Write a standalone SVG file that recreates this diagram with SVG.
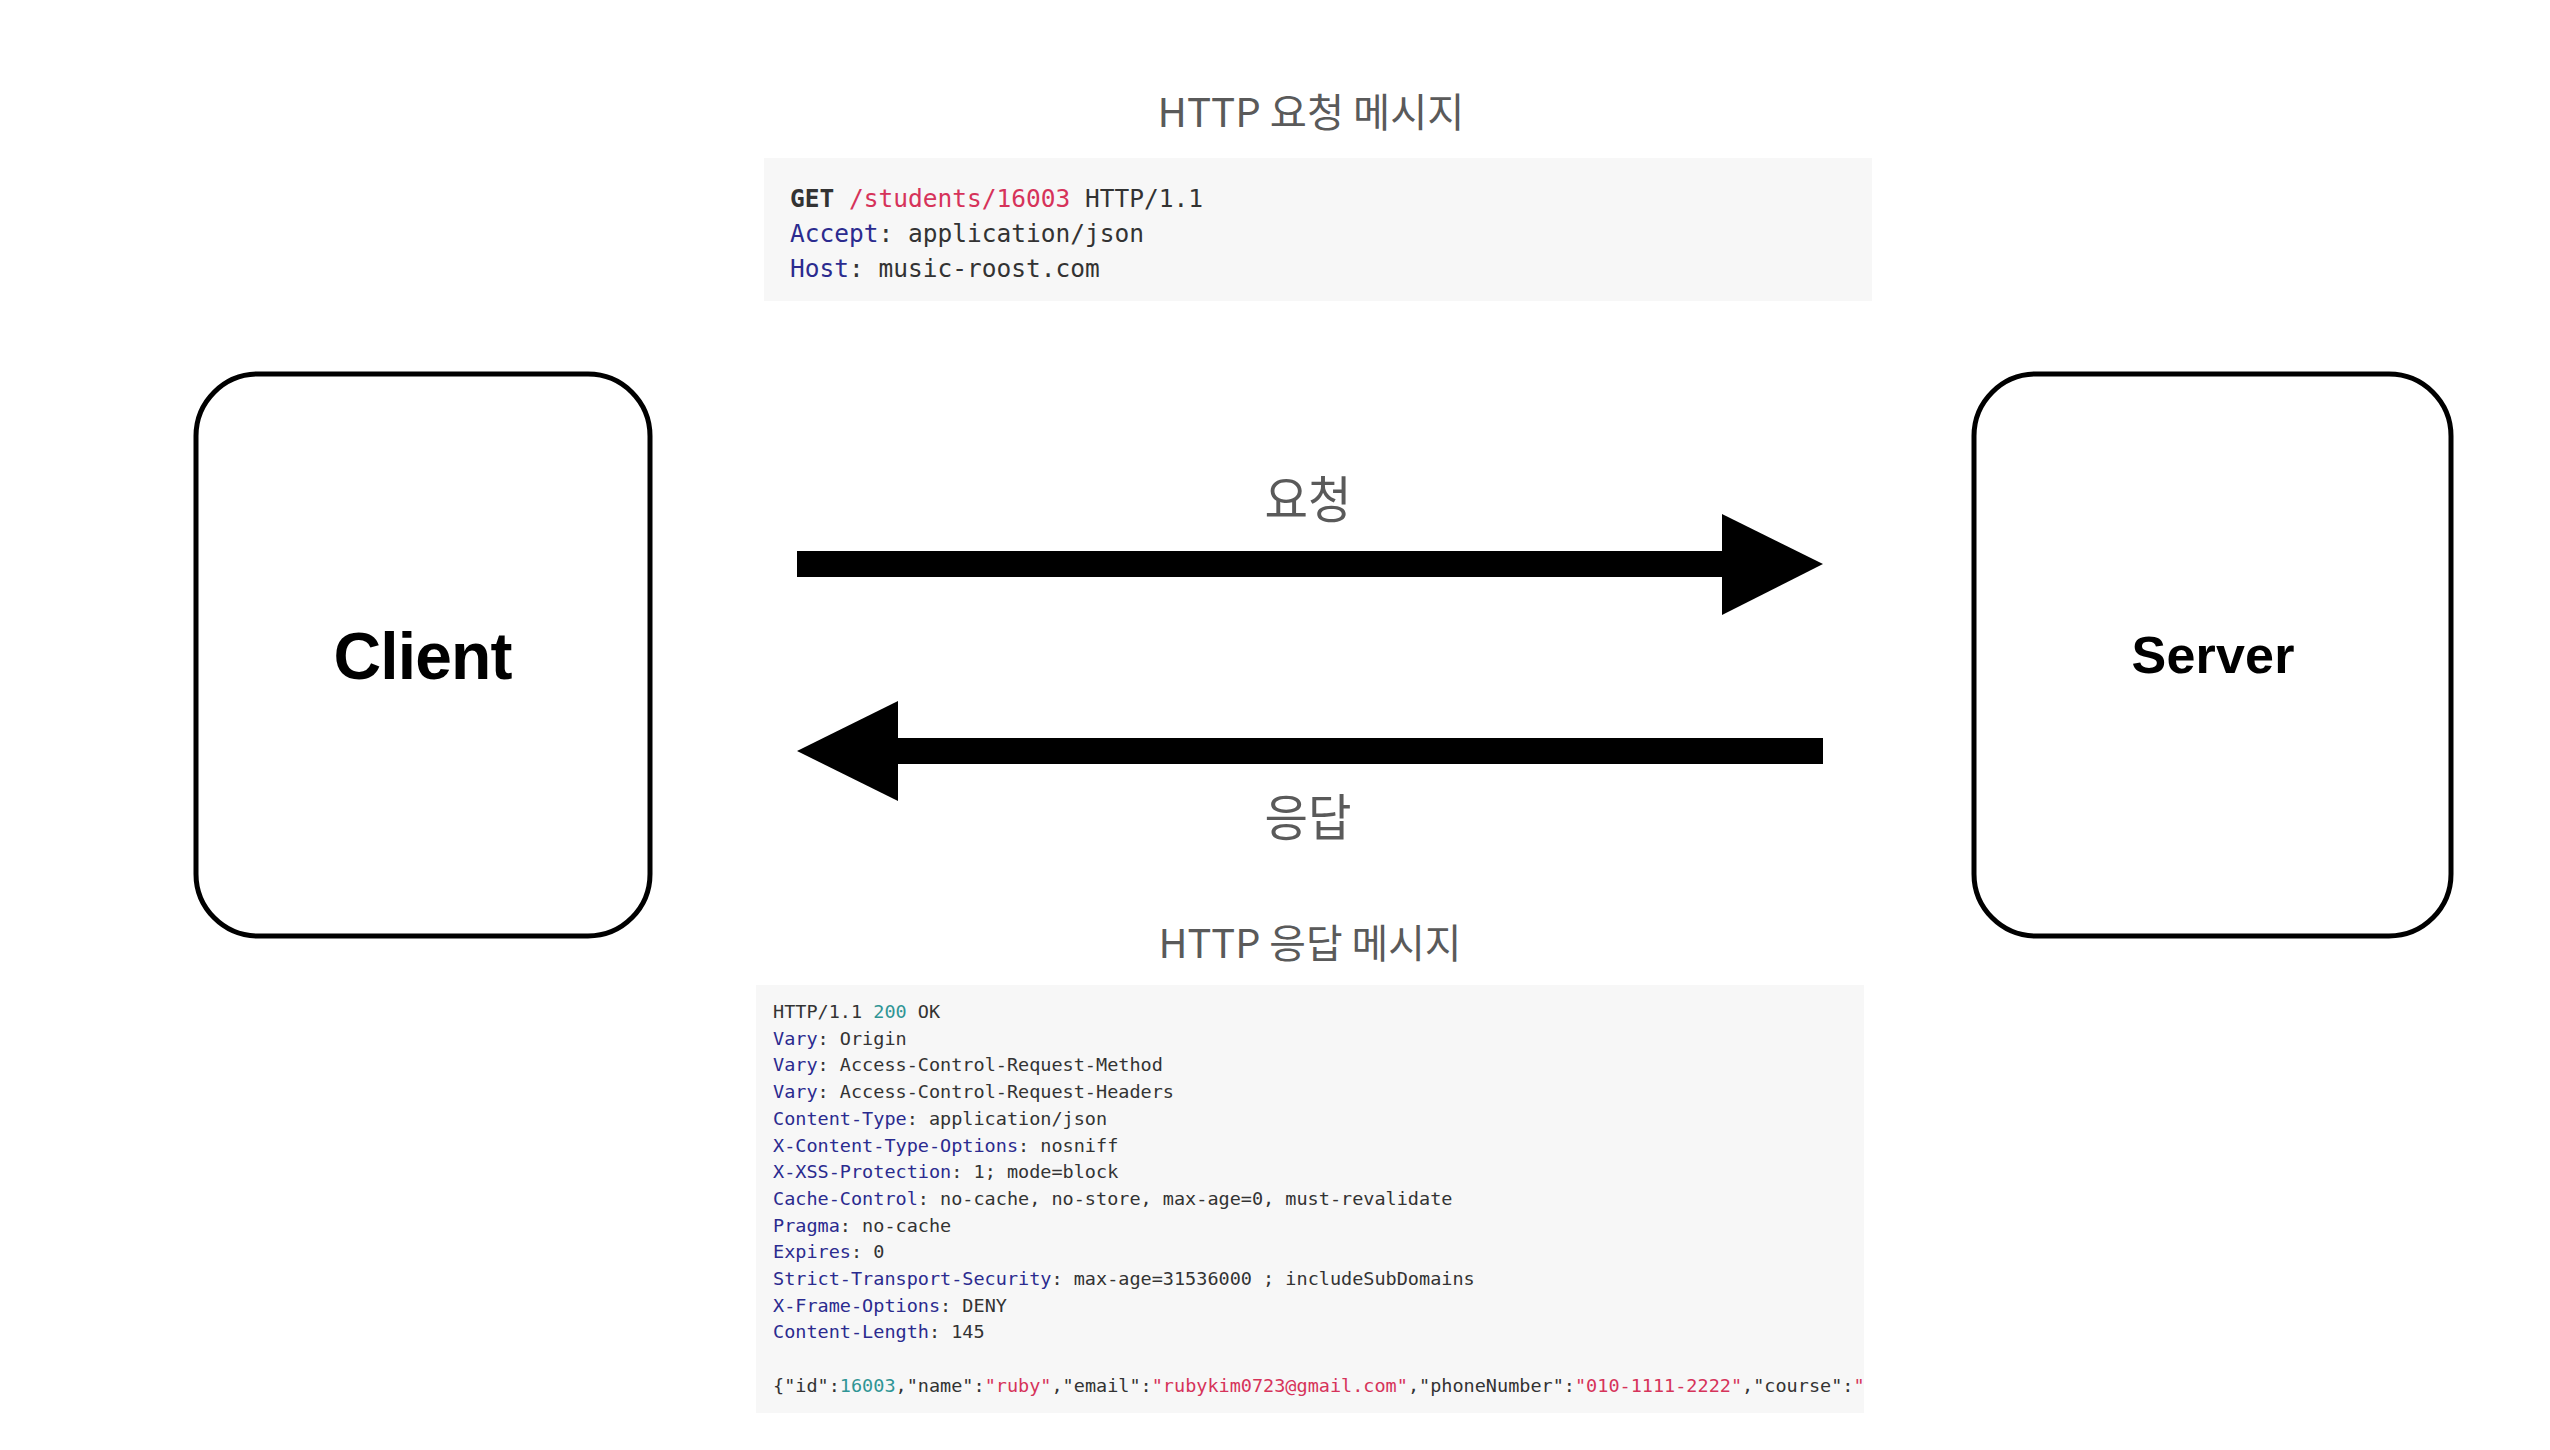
<svg xmlns="http://www.w3.org/2000/svg" width="2550" height="1450" viewBox="0 0 2550 1450">
<style>
.box{fill:#fff;stroke:#000;stroke-width:5}
.node{font-family:"Liberation Sans",Arial,sans-serif;font-weight:bold;fill:#000;text-anchor:middle}
.title{font-family:"Noto Sans CJK KR","Noto Sans",sans-serif;fill:#5a5a5a;text-anchor:middle}
.code{fill:#f7f7f7}
.mono{font-family:"DejaVu Sans Mono","Liberation Mono",monospace;fill:#333}
.k{fill:#2b2b8f}
.s{fill:#d6335a}
.n{fill:#2f9595}
.arrow{fill:#000}
</style>
<defs>
<clipPath id="respClip"><rect x="756" y="985" width="1108" height="428"/></clipPath>
</defs>
<rect width="2550" height="1450" fill="#fff"/>

<g id="request-message">
<text class="title" x="1311" y="127" font-size="40" textLength="307" lengthAdjust="spacingAndGlyphs">HTTP 요청 메시지</text>
<rect class="code" x="764" y="158" width="1108" height="143"/>
<g class="mono" font-size="24.5">
<text x="790" y="207"><tspan font-weight="bold">GET</tspan> <tspan class="s">/students/16003</tspan> HTTP/1.1</text>
<text x="790" y="242"><tspan class="k">Accept</tspan>: application/json</text>
<text x="790" y="277"><tspan class="k">Host</tspan>: music-roost.com</text>
</g>
</g>

<g id="client">
<rect class="box" x="196" y="374" width="454" height="562" rx="62"/>
<text class="node" x="423" y="679" font-size="66" textLength="179" lengthAdjust="spacing">Client</text>
</g>

<g id="server">
<rect class="box" x="1974" y="374" width="477" height="562" rx="62"/>
<text class="node" x="2213" y="673" font-size="52" textLength="163" lengthAdjust="spacing">Server</text>
</g>

<g id="connectors">
<g id="request-arrow">
<rect class="arrow" x="797" y="551" width="926" height="26"/>
<polygon class="arrow" points="1722,514 1823,564 1722,615"/>
<text class="title" x="1308" y="518" font-size="50" textLength="87" lengthAdjust="spacingAndGlyphs">요청</text>
</g>
<g id="response-arrow">
<rect class="arrow" x="897" y="738" width="926" height="26"/>
<polygon class="arrow" points="797,751 898,701 898,801"/>
<text class="title" x="1308" y="836" font-size="50" textLength="87" lengthAdjust="spacingAndGlyphs">응답</text>
</g>
</g>

<g id="response-message">
<text class="title" x="1310" y="958" font-size="40" textLength="303" lengthAdjust="spacingAndGlyphs">HTTP 응답 메시지</text>
<rect class="code" x="756" y="985" width="1108" height="428"/>
<g class="mono" font-size="18.5" clip-path="url(#respClip)">
<text x="773" y="1018">HTTP/1.1 <tspan class="n">200</tspan> OK</text>
<text x="773" y="1044.7"><tspan class="k">Vary</tspan>: Origin</text>
<text x="773" y="1071.4"><tspan class="k">Vary</tspan>: Access-Control-Request-Method</text>
<text x="773" y="1098.1"><tspan class="k">Vary</tspan>: Access-Control-Request-Headers</text>
<text x="773" y="1124.8"><tspan class="k">Content-Type</tspan>: application/json</text>
<text x="773" y="1151.5"><tspan class="k">X-Content-Type-Options</tspan>: nosniff</text>
<text x="773" y="1178.2"><tspan class="k">X-XSS-Protection</tspan>: 1; mode=block</text>
<text x="773" y="1204.9"><tspan class="k">Cache-Control</tspan>: no-cache, no-store, max-age=0, must-revalidate</text>
<text x="773" y="1231.6"><tspan class="k">Pragma</tspan>: no-cache</text>
<text x="773" y="1258.3"><tspan class="k">Expires</tspan>: 0</text>
<text x="773" y="1285"><tspan class="k">Strict-Transport-Security</tspan>: max-age=31536000 ; includeSubDomains</text>
<text x="773" y="1311.7"><tspan class="k">X-Frame-Options</tspan>: DENY</text>
<text x="773" y="1338.4"><tspan class="k">Content-Length</tspan>: 145</text>
<text x="773" y="1392">{"id":<tspan class="n">16003</tspan>,"name":<tspan class="s">"ruby"</tspan>,"email":<tspan class="s">"rubykim0723@gmail.com"</tspan>,"phoneNumber":<tspan class="s">"010-1111-2222"</tspan>,"course":<tspan class="s">"</tspan></text>
</g>
</g>
</svg>
